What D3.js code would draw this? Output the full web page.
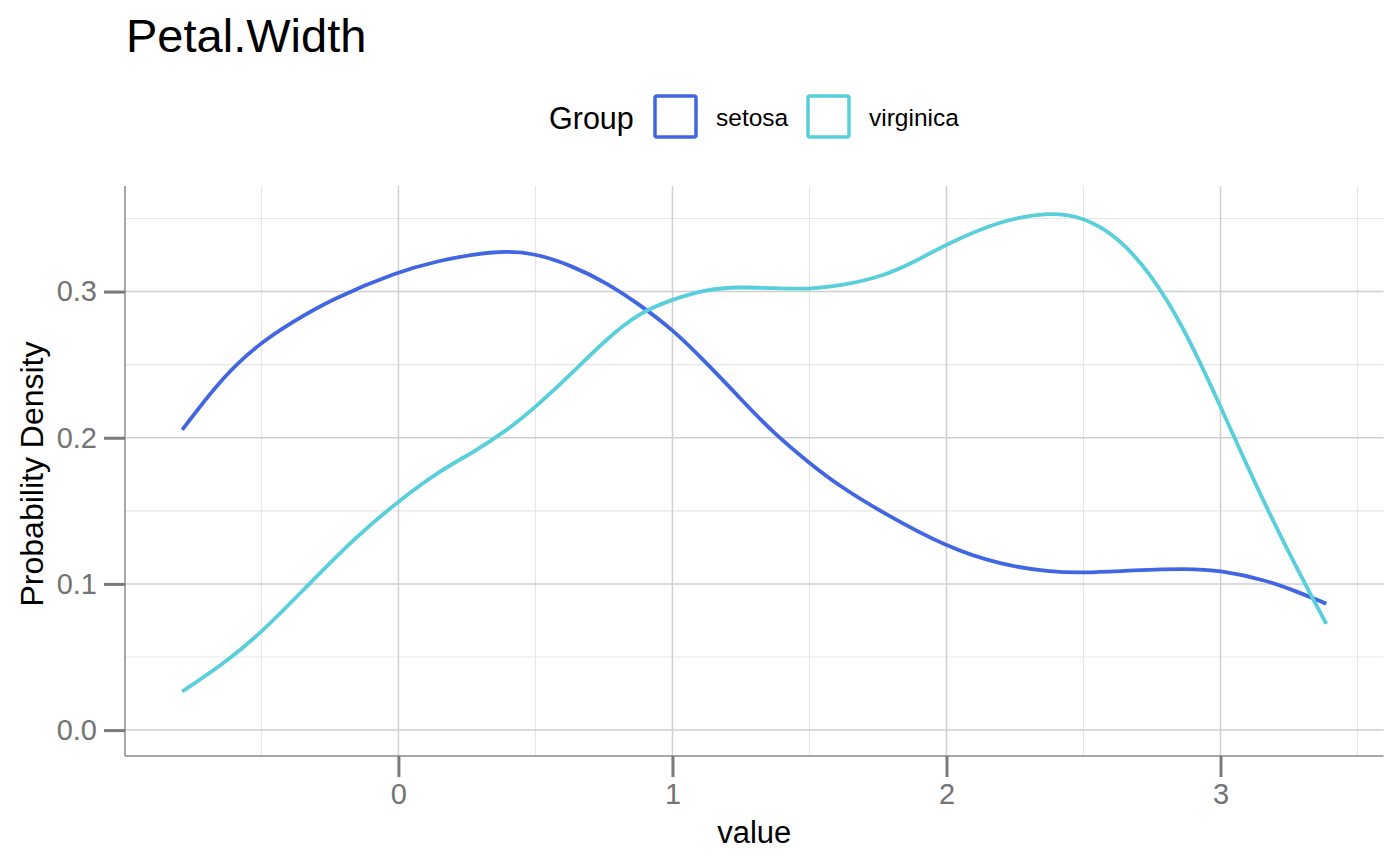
<!DOCTYPE html>
<html>
<head>
<meta charset="utf-8">
<script src="https://cdn.jsdelivr.net/npm/d3@7"></script>
<style>
  body { margin: 0; background: #fff; }
  svg { display: block; font-family: "Liberation Sans", Arial, Helvetica, sans-serif; }
</style>
</head>
<body>
<svg id="chart" width="1400" height="866"></svg>
<script>
// density estimates
const groups = ["setosa", "virginica"];
const groupColors = ["#4166e1", "#58cfdb"];

const setosaX = [-0.789, -0.637, -0.503, -0.393, -0.247, 0, 0.148, 0.27, 0.392, 0.498, 0.636, 0.757,
  0.879, 1.0, 1.123, 1.245, 1.367, 1.498, 1.61, 1.768, 2.0, 2.195, 2.377, 2.499, 2.682, 2.877, 3.0,
  3.169, 3.291, 3.386];
const setosaY = [0.2054, 0.2427, 0.265, 0.2785, 0.2946, 0.3139, 0.321, 0.3255, 0.3278, 0.3262, 0.3175,
  0.3062, 0.2913, 0.2742, 0.2514, 0.2274, 0.2034, 0.1829, 0.1668, 0.1486, 0.1252, 0.1132, 0.1082,
  0.1075, 0.1093, 0.1105, 0.1093, 0.1025, 0.0938, 0.0865];

const virginicaX = [-0.789, -0.637, -0.503, -0.332, -0.15, 0, 0.148, 0.27, 0.392, 0.498, 0.636, 0.757,
  0.879, 1.0, 1.123, 1.245, 1.367, 1.498, 1.61, 1.768, 1.89, 2.0, 2.195, 2.377, 2.499, 2.621,
  2.743, 2.864, 3.0, 3.108, 3.23, 3.386];
const virginicaY = [0.0264, 0.0455, 0.066, 0.0988, 0.1331, 0.1566, 0.1771, 0.1897, 0.2045, 0.2205,
  0.2445, 0.2673, 0.2856, 0.2947, 0.3016, 0.3032, 0.3023, 0.3016, 0.3038, 0.3103, 0.321, 0.3324,
  0.3486, 0.3545, 0.3511, 0.3381, 0.313, 0.2764, 0.2216, 0.176, 0.128, 0.0726];

const xTicks = [0, 1, 2, 3];
const xMinor = [-0.5, 0.5, 1.5, 2.5, 3.5];
const yTicks = [0, 0.1, 0.2, 0.3];
const yMinor = [0.05, 0.15, 0.25, 0.35];

const panel = { left: 125, right: 1383.5, top: 186, bottom: 756 };

const svg = d3.select("#chart");

const series = [
  { name: groups[0], color: groupColors[0], pts: setosaX.map((x, i) => [x, setosaY[i]]) },
  { name: groups[1], color: groupColors[1], pts: virginicaX.map((x, i) => [x, virginicaY[i]]) },
];

// ggplot style 5% expansion
const allX = setosaX.concat(virginicaX);
const xMin = d3.min(allX), xMax = d3.max(allX);
const xPad = (xMax - xMin) * 0.05;
const yMax = d3.max(setosaY.concat(virginicaY));
const yPad = yMax * 0.05;

const x = d3.scaleLinear().domain([xMin - xPad, xMax + xPad]).range([panel.left, panel.right]);
const y = d3.scaleLinear().domain([-yPad, yMax + yPad]).range([panel.bottom, panel.top]);

const grid = svg.append("g");

grid.selectAll(".xminor").data(xMinor).join("line")
  .attr("x1", x).attr("x2", x)
  .attr("y1", panel.top).attr("y2", panel.bottom)
  .attr("stroke", "#e6e6e6").attr("stroke-width", 1.1);

grid.selectAll(".yminor").data(yMinor).join("line")
  .attr("y1", y).attr("y2", y)
  .attr("x1", panel.left).attr("x2", panel.right)
  .attr("stroke", "#e6e6e6").attr("stroke-width", 1.1);

grid.selectAll(".xmajor").data(xTicks).join("line")
  .attr("x1", x).attr("x2", x)
  .attr("y1", panel.top).attr("y2", panel.bottom)
  .attr("stroke", "#cfcfcf").attr("stroke-width", 1.5);

grid.selectAll(".ymajor").data(yTicks).join("line")
  .attr("y1", y).attr("y2", y)
  .attr("x1", panel.left).attr("x2", panel.right)
  .attr("stroke", "#cfcfcf").attr("stroke-width", 1.5);

// axes
const xAxis = d3.axisBottom(x).tickValues(xTicks).tickFormat(d3.format("d"))
  .tickSizeInner(21).tickSizeOuter(0).tickPadding(6);
const yAxis = d3.axisLeft(y).tickValues(yTicks).tickFormat(d3.format(".1f"))
  .tickSizeInner(21).tickSizeOuter(0).tickPadding(7);

const gx = svg.append("g").attr("transform", `translate(0,${panel.bottom})`).call(xAxis);
const gy = svg.append("g").attr("transform", `translate(${panel.left},0)`).call(yAxis);

[gx, gy].forEach((g) => {
  g.select(".domain").attr("stroke", "#8a8a8a").attr("stroke-width", 1.5);
  g.selectAll(".tick line").attr("stroke", "#7a7a7a").attr("stroke-width", 3);
  g.selectAll(".tick text").attr("fill", "#737373").attr("font-size", 29)
    .attr("font-family", "Liberation Sans, Arial, sans-serif");
});
gx.select(".domain").attr("d", `M${panel.left},0H${panel.right}`);
gy.select(".domain").attr("d", `M0,${panel.top}V${panel.bottom}`);

// density lines
const line = d3.line()
  .x((d) => x(d[0]))
  .y((d) => y(d[1]))
  .curve(d3.curveBasis);

svg.append("g").selectAll("path").data(series).join("path")
  .attr("d", (d) => line(d.pts))
  .attr("fill", "none")
  .attr("stroke", (d) => d.color)
  .attr("stroke-width", 3.8);

// titles
svg.append("text").attr("x", 126).attr("y", 52)
  .attr("font-size", 47).attr("fill", "#000").text("Petal.Width");

svg.append("text").attr("x", (panel.left + panel.right) / 2).attr("y", 843)
  .attr("text-anchor", "middle").attr("font-size", 31).attr("fill", "#000").text("value");

svg.append("text")
  .attr("transform", `translate(43,${(panel.top + panel.bottom) / 2 + 3}) rotate(-90)`)
  .attr("text-anchor", "middle").attr("font-size", 32).attr("fill", "#000")
  .text("Probability Density");

// legend
const legend = svg.append("g");
legend.append("text").attr("x", 549).attr("y", 129)
  .attr("font-size", 30.5).attr("fill", "#000").text("Group");

const keyX = [655, 808];
const items = legend.selectAll(".key").data(series).join("g")
  .attr("transform", (d, i) => `translate(${keyX[i]},96)`);
items.append("rect")
  .attr("x", 0).attr("y", 0).attr("width", 41).attr("height", 41).attr("rx", 2)
  .attr("fill", "#fff").attr("stroke", (d) => d.color).attr("stroke-width", 3.5);
items.append("text").attr("x", 61).attr("y", 30)
  .attr("font-size", 24.5).attr("fill", "#000").text((d) => d.name);
</script>
</body>
</html>
